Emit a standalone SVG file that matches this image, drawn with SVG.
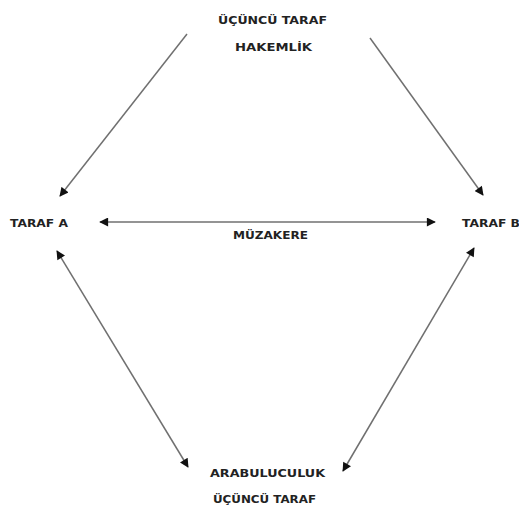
<svg xmlns="http://www.w3.org/2000/svg" width="519" height="512" viewBox="0 0 519 512">
<style>
text{font-family:"DejaVu Sans","Liberation Sans",sans-serif;font-weight:bold;font-size:10px;fill:#222;}
.c{stroke:#707070;stroke-width:1.5;fill:none;}
</style>
<defs>
<marker id="ah" viewBox="0 0 10 10" refX="9" refY="5" markerWidth="10" markerHeight="9" markerUnits="userSpaceOnUse" orient="auto-start-reverse">
<path d="M0,0 L10,5 L0,10 z" fill="#111"/>
</marker>
</defs>
<rect width="519" height="512" fill="#fff"/>
<g id="connectors">
<line class="c" x1="187" y1="34" x2="60" y2="196" marker-end="url(#ah)"/>
<line class="c" x1="370" y1="38" x2="483" y2="195" marker-end="url(#ah)"/>
<line class="c" x1="100" y1="222" x2="435" y2="222" marker-start="url(#ah)" marker-end="url(#ah)"/>
<line class="c" x1="57" y1="251" x2="188" y2="467" marker-start="url(#ah)" marker-end="url(#ah)"/>
<line class="c" x1="474" y1="248" x2="343" y2="471" marker-start="url(#ah)" marker-end="url(#ah)"/>
</g>
<g id="hakemlik">
<text x="218" y="24" textLength="109" lengthAdjust="spacingAndGlyphs">ÜÇÜNCÜ TARAF</text>
<text x="235" y="51" textLength="77" lengthAdjust="spacingAndGlyphs">HAKEMLİK</text>
</g>
<g id="taraf-a"><text x="10" y="227" textLength="58" lengthAdjust="spacingAndGlyphs">TARAF A</text></g>
<g id="taraf-b"><text x="462" y="227" textLength="58" lengthAdjust="spacingAndGlyphs">TARAF B</text></g>
<g id="muzakere"><text x="233" y="239" textLength="75" lengthAdjust="spacingAndGlyphs">MÜZAKERE</text></g>
<g id="arabuluculuk">
<text x="210" y="477" textLength="115" lengthAdjust="spacingAndGlyphs">ARABULUCULUK</text>
<text x="213" y="503" textLength="103" lengthAdjust="spacingAndGlyphs">ÜÇÜNCÜ TARAF</text>
</g>
</svg>
